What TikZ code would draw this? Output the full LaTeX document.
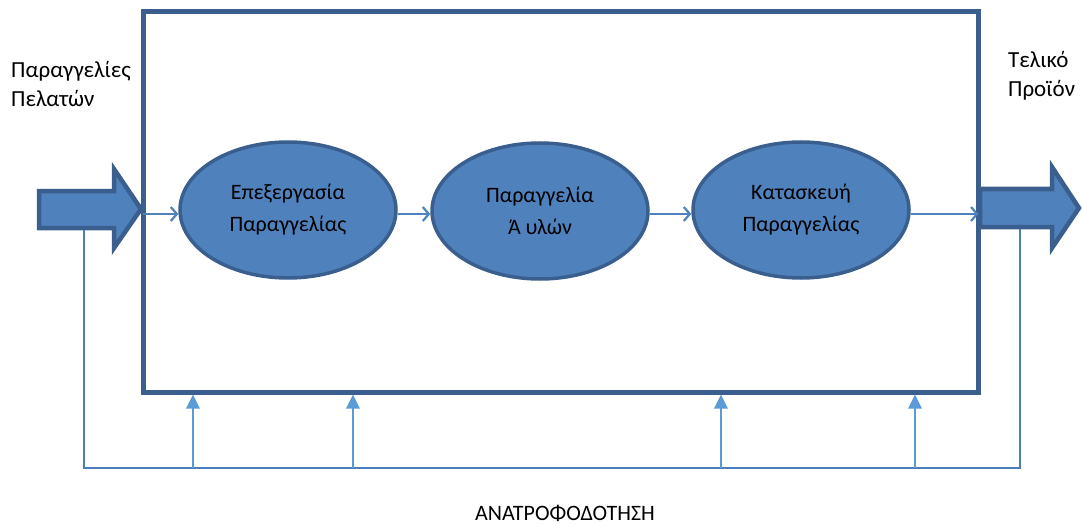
\documentclass[tikz,border=0pt]{standalone}
\usepackage{fontspec}
\setmainfont{Carlito}
\usetikzlibrary{arrows.meta,calc,shapes.geometric}
\definecolor{boxline}{HTML}{3A5F8F}
\definecolor{accent}{HTML}{4F81BD}
\definecolor{fbline}{HTML}{4A7EBB}
\definecolor{uparrow}{HTML}{5B9BD5}
\begin{document}
\begin{tikzpicture}[x=1pt,y=-1pt,
  stage/.style={ellipse,draw=boxline,line width=3.5pt,fill=accent,
    minimum width=216pt,minimum height=136pt,inner sep=0pt,align=center,
    font=\fontsize{22}{32}\selectfont},
  label/.style={align=left,font=\fontsize{23}{29}\selectfont,inner sep=0pt},
  flow/.style={draw=accent,line width=2.2pt,-{Straight Barb[length=6pt,width=14pt,line width=2.2pt]}},
  feed/.style={draw=fbline,line width=2.8pt},
  rise/.style={draw=uparrow,line width=2.8pt,-{Triangle[length=14pt,width=13pt]}},
  bigarrow/.style={draw=boxline,line width=4.5pt,fill=accent,line join=miter}]
\useasboundingbox (0,0) rectangle (1082,524);
% system boundary
\node (sys) [draw=boxline,line width=5pt,minimum width=835pt,minimum height=380pt,inner sep=0pt] at (560.5,202) {};
% processing stages
\node (e1) [stage] at (288,210) {Επεξεργασία\\Παραγγελίας};
\node (e2) [stage] at (540,211) {Παραγγελία\\Ά υλών};
\node (e3) [stage] at (801,210) {Κατασκευή\\Παραγγελίας};
% input and output block arrows
\draw[bigarrow] (39,191) -- (114,191) -- (114,169) -- (141,209) -- (114,248) -- (114,228) -- (39,228) -- cycle;
\draw[bigarrow] (980,189) -- (1052,189) -- (1052,167) -- (1079,208) -- (1052,248) -- (1052,227) -- (980,227) -- cycle;
% flow between stages
\coordinate (in) at ($(sys.west)+(2,12)$);
\coordinate (out) at ($(sys.east)+(-2,12)$);
\draw[flow] (in) -- (e1.west |- in);
\draw[flow] (e1.east |- in) -- (e2.west |- in);
\draw[flow] (e2.east |- in) -- (e3.west |- in);
\draw[flow] (e3.east |- in) -- (out);
% feedback loop
\coordinate (fbl) at (84,230);
\coordinate (fbr) at (1020,229);
\coordinate (fbb) at (0,468);
\draw[feed] (fbl) -- (fbl |- fbb) -- (fbr |- fbb) -- (fbr);
\foreach \x [count=\i] in {193,353,721,915} {
  \coordinate (fb\i) at (\x,468);
  \draw[rise] (fb\i) -- (fb\i |- sys.south);
}
% labels
\node (lin) [label,anchor=north west] at (11,61) {Παραγγελίες\\Πελατών};
\node (lout) [label,anchor=north west] at (1008,51) {Τελικό\\Προϊόν};
\node (lfb) [font=\fontsize{22}{26}\selectfont,inner sep=0pt] at (565,513) {ΑΝΑΤΡΟΦΟΔΟΤΗΣΗ};
\end{tikzpicture}
\end{document}
